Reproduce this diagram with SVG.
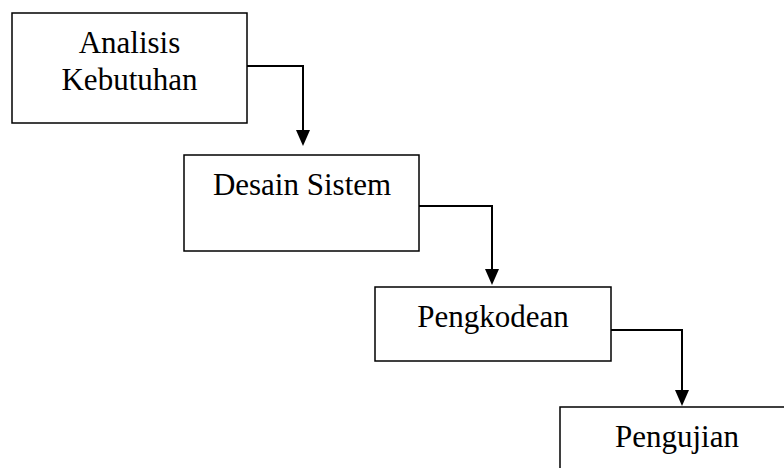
<svg xmlns="http://www.w3.org/2000/svg" width="784" height="468" viewBox="0 0 784 468">
<style>
.box{fill:#fff;stroke:#000;stroke-width:1.5}
.lbl{font-family:"Liberation Serif","Times New Roman",serif;font-size:31px;fill:#000;text-anchor:middle}
.conn{fill:none;stroke:#000;stroke-width:2}
</style>
<defs>
<marker id="arr" markerUnits="userSpaceOnUse" markerWidth="14" markerHeight="16" refX="7" refY="15" orient="auto-start-reverse" viewBox="0 0 14 16">
<polygon points="0,0 14,0 7,16" fill="#000" transform="rotate(0)"/>
</marker>
</defs>
<rect width="784" height="468" fill="#fff"/>
<g id="connectors">
<path class="conn" d="M247,66 H303 V130"/>
<polygon points="296,130 310,130 303,146" fill="#000"/>
<path class="conn" d="M419,206 H492 V269"/>
<polygon points="485,269 499,269 492,285" fill="#000"/>
<path class="conn" d="M611,330 H682 V390"/>
<polygon points="675,390 689,390 682,406" fill="#000"/>
</g>
<g id="analisis">
<rect class="box" x="12" y="13" width="235" height="110"/>
<text class="lbl" x="129.5" y="53">Analisis</text>
<text class="lbl" x="129.5" y="90">Kebutuhan</text>
</g>
<g id="desain">
<rect class="box" x="184" y="155" width="235" height="96"/>
<text class="lbl" x="302" y="195">Desain Sistem</text>
</g>
<g id="pengkodean">
<rect class="box" x="375" y="287" width="236" height="74"/>
<text class="lbl" x="493" y="327">Pengkodean</text>
</g>
<g id="pengujian">
<rect class="box" x="560" y="407" width="236" height="80"/>
<text class="lbl" x="677" y="447">Pengujian</text>
</g>
</svg>
